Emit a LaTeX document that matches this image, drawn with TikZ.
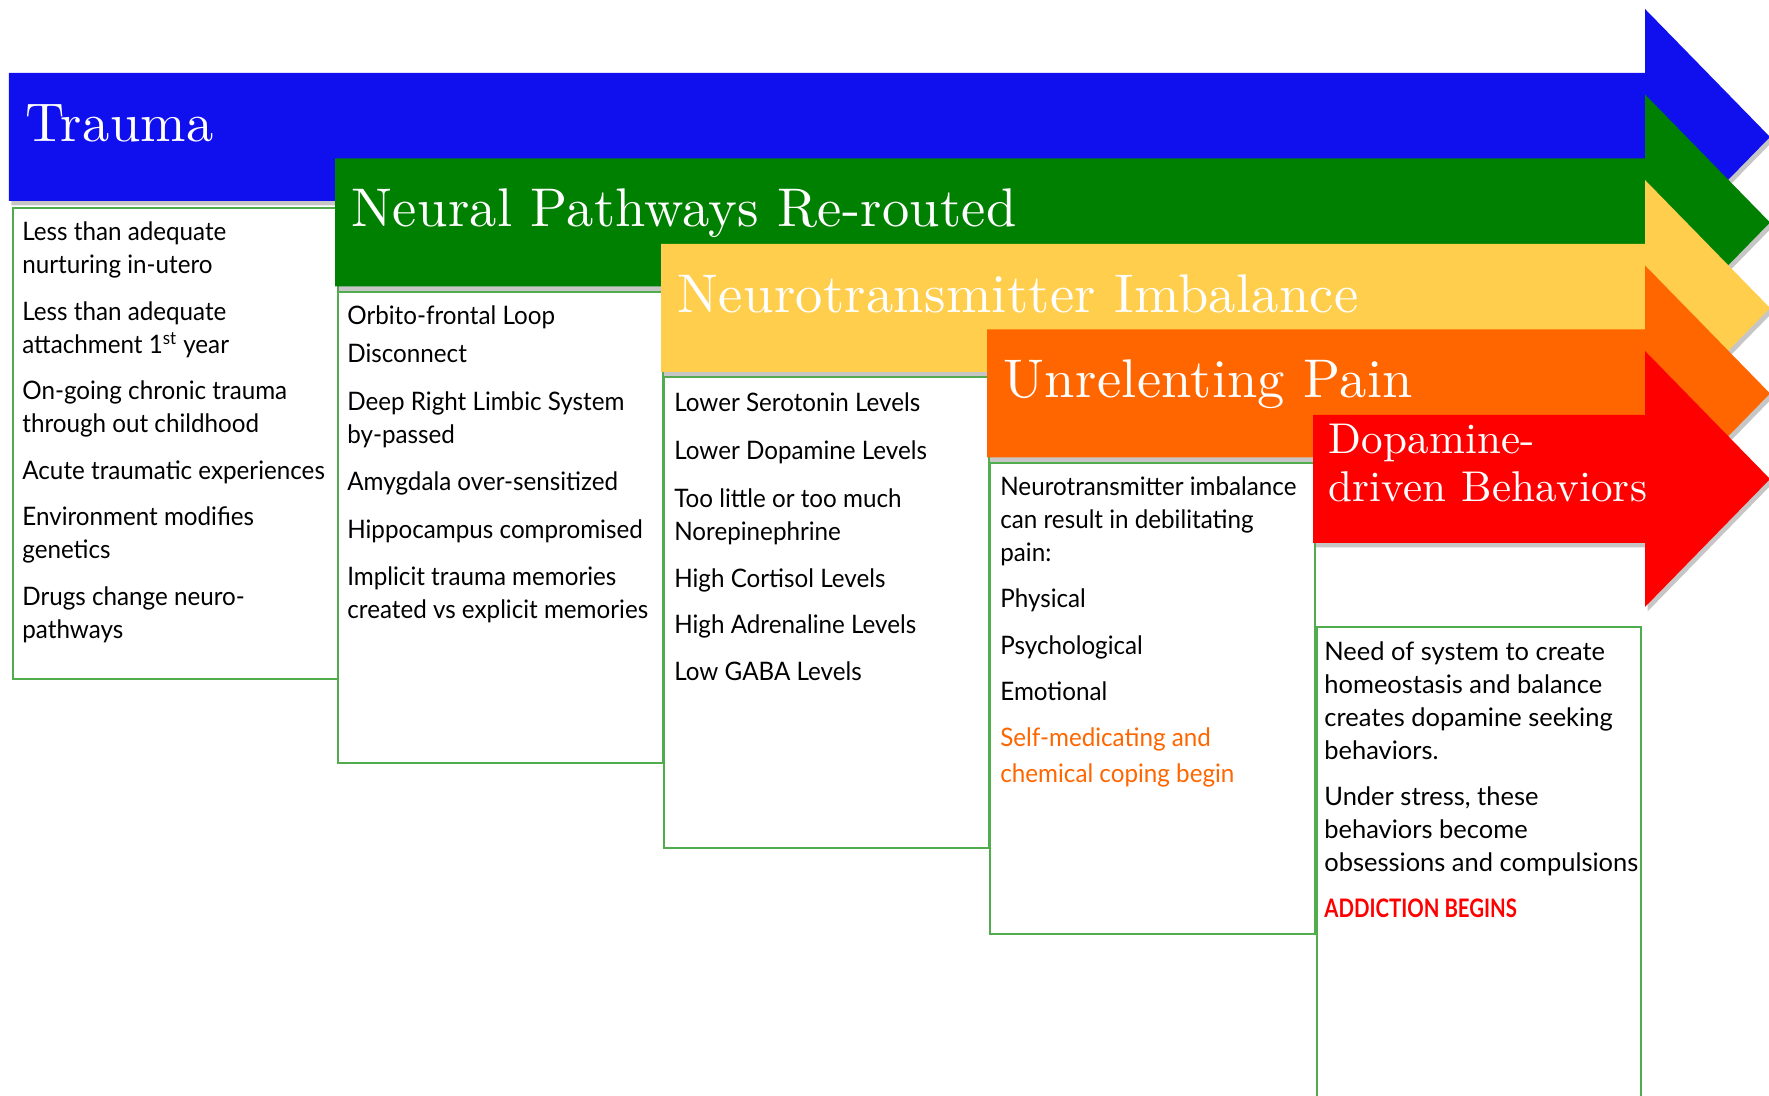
\documentclass[tikz,border=0pt]{standalone}
\usepackage{fontspec}
\usepackage{xcolor}
\usetikzlibrary{positioning, shadows}

\newfontfamily\listfont{Lato}[FakeStretch=0.95]
\newfontfamily\widelistfont{Lato}
\newfontfamily\alertfont{Lato}[FakeStretch=0.8]
\newfontfamily\stagefont{lmroman10-regular}[Extension=.otf, LetterSpace=0.5]

\definecolor{traumablue}{RGB}{16,16,238}
\definecolor{neuralgreen}{RGB}{0,128,0}
\definecolor{neuroyellow}{RGB}{254,206,76}
\definecolor{painorange}{RGB}{255,102,0}
\definecolor{dopared}{RGB}{255,0,0}
\definecolor{boxgreen}{RGB}{80,172,76}

\begin{document}
\begin{tikzpicture}[
    stage/.style={drop shadow={shadow xshift=0.05cm, shadow yshift=-0.09cm, opacity=0.45}},
    title/.style={anchor=base west, inner sep=0, text=white, font=\stagefont\fontsize{31}{36}\selectfont},
    infobox/.style={draw=boxgreen, line width=1.4pt, anchor=north west, minimum width=6.5cm, minimum height=9.42cm, inner sep=0},
    items/.style={inner sep=0, align=left, font=\listfont\fontsize{14.5}{18.8}\selectfont}
]
    \useasboundingbox (0,0) rectangle (35.38,21.92);

    % Boxes under the arrows
    \node[infobox] (causes) at (0.24,17.78) {};
    \node[infobox] (pathways) at (6.74,16.10) {};
    \node[infobox] (chemistry) at (13.26,14.40) {};
    \node[infobox] (pain) at (19.78,12.68) {};
    \node[infobox, minimum width=6.48cm, minimum height=9.8cm] (behaviors) at (26.32,9.40) {};

    \node[items, below right=0.29cm and 0.2cm of causes.north west] (causes list) {Less than adequate\\ nurturing in-utero\\[0.27cm]
        Less than adequate\\ attachment 1\textsuperscript{st} year\\[0.27cm]
        On-going chronic trauma\\ through out childhood\\[0.27cm]
        Acute traumatic experiences\\[0.27cm]
        Environment modifies\\ genetics\\[0.27cm]
        Drugs change neuro-\\ pathways};
    \node[items, below right=0.29cm and 0.2cm of pathways.north west] (pathways list) {Orbito-frontal Loop\\[0.1cm] Disconnect\\[0.3cm]
        Deep Right Limbic System\\ by-passed\\[0.28cm]
        Amygdala over-sensitized\\[0.3cm]
        Hippocampus compromised\\[0.28cm]
        Implicit trauma memories\\ created vs explicit memories};
    \node[items, below right=0.33cm and 0.22cm of chemistry.north west] (chemistry list) {Lower Serotonin Levels\\[0.3cm]
        Lower Dopamine Levels\\[0.3cm]
        Too little or too much\\ Norepinephrine\\[0.28cm]
        High Cortisol Levels\\[0.26cm]
        High Adrenaline Levels\\[0.28cm]
        Low GABA Levels};
    \node[items, below right=0.29cm and 0.22cm of pain.north west] (pain list) {Neurotransmitter imbalance\\ can result in debilitating\\ pain:\\[0.26cm]
        Physical\\[0.28cm]
        Psychological\\[0.26cm]
        Emotional\\[0.26cm]
        \textcolor{painorange}{Self-medicating and}\\[0.06cm] \textcolor{painorange}{chemical coping begin}};
    \node[items, font=\widelistfont\fontsize{14.5}{18.8}\selectfont, below right=0.3cm and 0.16cm of behaviors.north west] (behaviors list) {Need of system to create\\ homeostasis and balance\\ creates dopamine seeking\\ behaviors.\\[0.26cm]
        Under stress, these\\ behaviors become\\ obsessions and compulsions\\[0.26cm]
        {\alertfont\bfseries\color{dopared}ADDICTION BEGINS}};

    % Stage arrows, one over the other
    \fill[traumablue, stage] (0.18,20.46) -| ++(32.72,1.28) -- ++(2.5,-2.56) -- ++(-2.5,-2.56) |- (0.18,17.90) -- cycle;
    \node[title] (trauma) at (0.51,19.09) {Trauma};

    \fill[neuralgreen, stage] (6.70,18.75) -| ++(26.20,1.28) -- ++(2.5,-2.56) -- ++(-2.5,-2.56) |- (6.70,16.19) -- cycle;
    \node[title] (neural) at (7.03,17.38) {Neural Pathways Re-routed};

    \fill[neuroyellow, stage] (13.22,17.04) -| ++(19.68,1.28) -- ++(2.5,-2.56) -- ++(-2.5,-2.56) |- (13.22,14.48) -- cycle;
    \node[title] (imbalance) at (13.55,15.67) {Neurotransmitter Imbalance};

    \fill[painorange, stage] (19.74,15.33) -| ++(13.16,1.28) -- ++(2.5,-2.56) -- ++(-2.5,-2.56) |- (19.74,12.77) -- cycle;
    \node[title] (unrelenting) at (20.07,13.96) {Unrelenting Pain};

    \fill[dopared, stage] (26.26,13.62) -| ++(6.64,1.28) -- ++(2.5,-2.56) -- ++(-2.5,-2.56) |- (26.26,11.06) -- cycle;
    \node[title, anchor=north west, align=left, font=\stagefont\fontsize{24.5}{27.6}\selectfont] (dopamine) at (26.56,13.45) {Dopamine-\\ driven Behaviors};
\end{tikzpicture}
\end{document}
